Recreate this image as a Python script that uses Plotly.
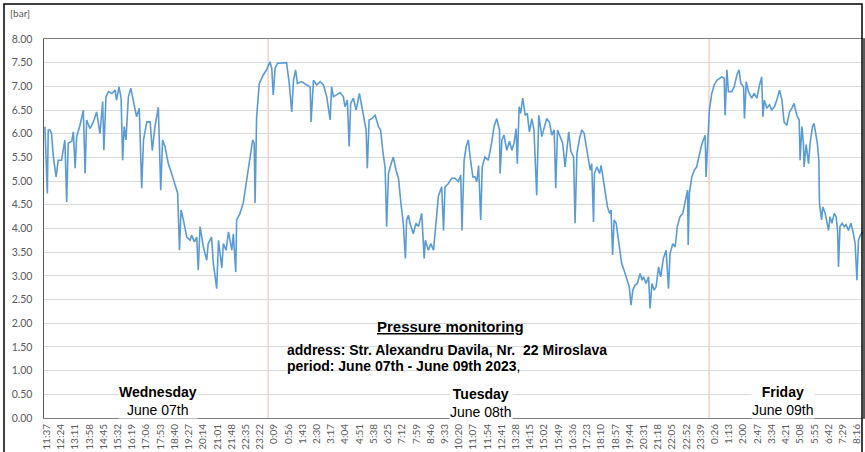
import plotly.graph_objects as go

# ---------------- data ----------------
START_LABEL = "11:37"  # first tick, Wednesday June 07th 2023

# minutes since Wed 11:37
time_wed = [-6, 2, 5, 11, 16, 22, 31, 38, 49, 60, 66, 71, 83, 88, 94, 99, 110, 121, 127, 132, 143, 154, 165, 176,
            185, 189, 196, 204, 215, 226, 231, 239, 246, 251, 256, 262, 270, 278, 286, 297, 306, 314, 320, 331,
            342, 349, 358, 369, 377, 383, 391, 402, 413, 424, 433, 439, 444, 452, 463, 474, 479, 488, 496, 501,
            507, 518, 529, 534, 545, 551, 562, 568, 579, 584, 593, 601, 612, 617, 625, 628, 639, 650, 661, 672,
            681, 686, 689, 694, 703, 716, 727, 738, 744, 749, 755, 763, 777, 793, 802, 810, 816, 823, 829, 843,
            860, 871]
pressure_wed = [6.15, 4.74, 6.08, 6.08, 6.0, 5.51, 5.09, 5.44, 5.44, 5.87, 4.56, 5.8, 5.84, 6.04, 5.27, 5.94, 6.18,
                6.5, 5.16, 6.29, 6.11, 6.25, 6.46, 6.0, 6.68, 5.65, 6.78, 6.89, 6.85, 6.92, 6.71, 6.99, 6.75, 5.44,
                6.15, 5.87, 6.78, 6.96, 6.71, 6.36, 6.54, 4.85, 5.87, 6.25, 6.25, 5.65, 6.15, 6.56, 4.81, 5.87,
                5.73, 5.37, 5.16, 4.95, 4.74, 3.54, 4.39, 4.18, 3.82, 3.75, 3.86, 3.72, 3.82, 3.12, 4.04, 3.61,
                3.33, 3.68, 3.82, 3.26, 2.73, 3.75, 3.17, 3.68, 3.54, 3.93, 3.54, 3.89, 3.08, 4.18, 4.32, 4.54,
                5.02, 5.51, 5.87, 5.80, 4.54, 6.36, 7.06, 7.24, 7.35, 7.52, 7.38, 6.82, 7.38, 7.49, 7.49, 7.5,
                7.06, 6.46, 7.13, 7.35, 7.06, 7.1, 7.03, 6.99]

time_thu = [874, 882, 893, 904, 915, 926, 937, 942, 948, 959, 970, 981, 986, 994, 1000, 1005, 1014, 1023, 1034,
            1042, 1050, 1056, 1060, 1066, 1075, 1086, 1097, 1104, 1111, 1119, 1124, 1130, 1137, 1146, 1155, 1163,
            1171, 1179, 1186, 1190, 1196, 1201, 1212, 1221, 1229, 1240, 1248, 1252, 1262, 1270, 1279, 1287, 1295,
            1306, 1312, 1317, 1328, 1339, 1350, 1361, 1369, 1373, 1380, 1387, 1394, 1400, 1409, 1416, 1422, 1428,
            1435, 1440, 1449, 1460, 1471, 1479, 1488, 1497, 1499, 1505, 1512, 1521, 1530, 1538, 1545, 1552, 1556,
            1562, 1567, 1574, 1582, 1589, 1596, 1604, 1611, 1620, 1627, 1637, 1645, 1653, 1662, 1670, 1678, 1683,
            1689, 1697, 1706, 1714, 1722, 1726, 1733, 1742, 1747, 1753, 1761, 1769, 1777, 1786]
pressure_thu = [6.25, 7.13, 7.03, 7.1, 7.03, 6.78, 6.29, 6.99, 6.78, 6.82, 6.87, 6.78, 6.57, 6.71, 5.73, 6.64,
                6.75, 6.5, 6.85, 6.57, 6.29, 6.08, 5.27, 6.29, 6.32, 6.39, 6.15, 6.08, 5.65, 5.27, 4.04, 5.16,
                5.33, 5.51, 5.23, 5.06, 4.54, 4.11, 3.37, 4.18, 4.28, 4.11, 3.89, 4.11, 4.04, 4.32, 3.37, 3.75,
                3.54, 3.68, 3.54, 4.11, 4.68, 4.88, 3.96, 4.88, 4.95, 5.06, 5.06, 4.99, 5.13, 3.96, 5.44, 5.73,
                5.87, 5.51, 5.09, 5.09, 4.99, 5.33, 4.18, 5.3, 5.51, 5.44, 5.8, 6.15, 6.32, 6.08, 5.16, 5.87,
                5.97, 5.65, 5.84, 5.65, 5.8, 6.11, 5.37, 6.57, 6.43, 6.75, 6.39, 6.43, 6.04, 6.32, 6.08, 4.7,
                6.39, 5.94, 6.11, 6.32, 6.25, 5.97, 6.08, 4.85, 6.08, 5.94, 5.8, 5.3, 5.87, 6.04, 5.63, 5.51,
                4.11, 5.58, 5.87, 6.08, 6.01, 5.65]

time_fri = [1791, 1797, 1802, 1808, 1811, 1819, 1828, 1833, 1839, 1846, 1854, 1861, 1866, 1871, 1876, 1883, 1890,
            1896, 1901, 1909, 1918, 1926, 1932, 1938, 1945, 1953, 1962, 1969, 1973, 1982, 1990, 1995, 2001, 2008,
            2015, 2023, 2030, 2039, 2048, 2056, 2061, 2070, 2078, 2085, 2094, 2103, 2112, 2119, 2121, 2125, 2133,
            2141, 2149, 2158, 2164, 2171, 2177, 2180, 2186, 2191, 2199, 2207, 2216, 2224, 2232, 2240, 2243, 2249,
            2254, 2265, 2273, 2282, 2289, 2295, 2304, 2307, 2313, 2320, 2331, 2339, 2348, 2357, 2364, 2368, 2373,
            2381, 2390, 2397, 2406, 2414, 2423, 2431, 2438, 2447, 2456, 2464, 2471, 2480, 2488, 2491, 2497, 2502,
            2504, 2511, 2519, 2524, 2532, 2537, 2544, 2548, 2553, 2555, 2562, 2566, 2574, 2579, 2585, 2590, 2596,
            2604, 2610, 2615, 2618, 2623, 2630, 2637, 2643, 2651, 2659, 2665, 2673, 2679, 2684, 2690, 2698, 2704]
pressure_fri = [5.44, 5.23, 5.37, 4.14, 5.16, 5.3, 5.16, 5.33, 5.09, 4.74, 4.46, 4.32, 4.39, 3.44, 4.18, 4.11,
                3.75, 3.47, 3.26, 3.12, 2.91, 2.77, 2.38, 2.7, 2.8, 2.84, 3.05, 2.91, 2.98, 2.84, 2.98, 2.31,
                2.84, 2.7, 2.77, 3.19, 2.98, 3.37, 3.54, 2.73, 3.47, 3.68, 3.61, 4.04, 4.25, 4.32, 4.6, 4.81,
                3.65, 4.74, 5.09, 5.23, 5.3, 5.58, 5.73, 5.87, 5.97, 5.09, 6.01, 6.5, 6.85, 7.03, 7.13, 7.17,
                7.2, 7.17, 6.39, 7.35, 6.89, 6.89, 6.99, 7.24, 7.35, 7.06, 6.99, 6.32, 7.1, 6.89, 6.75, 6.85,
                6.75, 7.03, 7.2, 6.36, 6.71, 6.54, 6.61, 6.5, 6.57, 6.71, 6.92, 6.71, 6.25, 6.18, 6.46, 6.54,
                6.64, 6.39, 6.29, 5.44, 6.15, 5.8, 5.3, 5.77, 5.37, 5.8, 6.15, 6.22, 5.94, 5.8, 5.44, 4.54,
                4.18, 4.46, 4.32, 4.11, 3.96, 4.25, 4.11, 4.32, 4.25, 3.96, 3.19, 4.04, 4.11, 4.04, 4.08, 3.96,
                4.11, 3.96, 3.68, 2.91, 3.75, 3.86, 3.93, 3.82]

tick_labels = ["11:37", "12:24", "13:11", "13:58", "14:45", "15:32", "16:19", "17:06", "17:53", "18:40",
               "19:27", "20:14", "21:01", "21:48", "22:35", "23:22", "0:09", "0:56", "1:43", "2:30", "3:17",
               "4:04", "4:51", "5:38", "6:25", "7:12", "7:59", "8:46", "9:33", "10:20", "11:07", "11:54",
               "12:41", "13:28", "14:15", "15:02", "15:49", "16:36", "17:23", "18:10", "18:57", "19:44",
               "20:31", "21:18", "22:05", "22:52", "23:39", "0:26", "1:13", "2:00", "2:47", "3:34", "4:21",
               "5:08", "5:55", "6:42", "7:29", "8:16"]

y_ticks = [0.0, 0.5, 1.0, 1.5, 2.0, 2.5, 3.0, 3.5, 4.0, 4.5, 5.0, 5.5, 6.0, 6.5, 7.0, 7.5, 8.0]
day_breaks = [732, 2190]  # minutes since start where the day divider lines sit

x_range = [-9, 2699]
y_range = [0, 8]

# ---------------- build ----------------
assert len(time_wed) == len(pressure_wed), (len(time_wed), len(pressure_wed))
assert len(time_thu) == len(pressure_thu), (len(time_thu), len(pressure_thu))
assert len(time_fri) == len(pressure_fri), (len(time_fri), len(pressure_fri))

times = time_wed + time_thu + time_fri
pressure = pressure_wed + pressure_thu + pressure_fri


def to_min(lbl):
    h, m = lbl.split(":")
    return int(h) * 60 + int(m)


tick_vals = []
day = 0
prev = None
start = to_min(START_LABEL)
for lbl in tick_labels:
    m = to_min(lbl)
    if prev is not None and m < prev:
        day += 1
    prev = m
    tick_vals.append(m + day * 1440 - start)

X_TICK_FONT = dict(family="Lato, 'Open Sans', sans-serif", size=10, color="#595959")
Y_TICK_FONT = dict(family="Lato, 'Open Sans', sans-serif", size=10.5, color="#595959")
TEXT_FONT = "Liberation Sans, Arial, sans-serif"

fig = go.Figure()
fig.add_trace(go.Scatter(x=times, y=pressure, mode="lines",
                         line=dict(color="#5b9bd5", width=1.6), hoverinfo="skip", showlegend=False))

for xb in day_breaks:
    fig.add_shape(type="line", xref="x", yref="y domain", x0=xb, x1=xb, y0=0, y1=1,
                  line=dict(color="#f0b9a8", width=1), layer="below")

W, H = 865, 452
ML, MR, MT, MB = 44, 2, 39, 34
pw, ph = W - ML - MR, H - MT - MB


def px(x):
    return (x - ML) / pw


def py(y):
    return (H - MB - y) / ph


# outer frame
fig.add_shape(type="rect", xref="paper", yref="paper", x0=px(4), x1=px(862), y0=py(470), y1=py(4),
              line=dict(color="black", width=1.5))

annos = [
    dict(text="[bar]", x=px(9), y=py(13), xanchor="left", yanchor="middle",
         font=dict(family="Lato, sans-serif", size=10, color="#595959")),
    dict(text="<b><u>Pressure monitoring</u></b>", x=px(450), y=py(326), xanchor="center", yanchor="middle",
         font=dict(family=TEXT_FONT, size=15, color="black")),
    dict(text="<b>address: Str. Alexandru Davila, Nr.&nbsp; 22 Miroslava</b>", x=px(286), y=py(350),
         xanchor="left", yanchor="middle", font=dict(family=TEXT_FONT, size=14, color="black")),
    dict(text="<b>period: June 07th - June 09th 2023</b>,", x=px(286), y=py(366),
         xanchor="left", yanchor="middle", font=dict(family=TEXT_FONT, size=14, color="black")),
    dict(text="<b>Wednesday</b><br>June 07th", x=px(158), y=py(401), xanchor="center", yanchor="middle",
         font=dict(family=TEXT_FONT, size=14, color="black"), bgcolor="white"),
    dict(text="<b>Tuesday</b><br>June 08th", x=px(481), y=py(403), xanchor="center", yanchor="middle",
         font=dict(family=TEXT_FONT, size=14, color="black"), bgcolor="white"),
    dict(text="<b>Friday</b><br>June 09th", x=px(783), y=py(401), xanchor="center", yanchor="middle",
         font=dict(family=TEXT_FONT, size=14, color="black"), bgcolor="white"),
]
for a in annos:
    fig.add_annotation(xref="paper", yref="paper", showarrow=False, borderpad=0, **a)

fig.update_layout(
    width=W, height=H,
    margin=dict(l=ML, r=MR, t=MT, b=MB, pad=0, autoexpand=False),
    paper_bgcolor="white", plot_bgcolor="white",
    xaxis=dict(range=x_range, tickmode="array", tickvals=tick_vals, ticktext=tick_labels,
               tickangle=-90, tickfont=X_TICK_FONT, showgrid=False, zeroline=False, automargin=False,
               showline=True, linecolor="#7f7f7f", linewidth=1, mirror=True,
               ticks="outside", ticklen=1, tickcolor="rgba(0,0,0,0)"),
    yaxis=dict(range=y_range, tickmode="array", tickvals=y_ticks, automargin=False,
               ticktext=[f"{v:.2f}" for v in y_ticks], tickfont=Y_TICK_FONT,
               showgrid=True, gridcolor="#d9d9d9", gridwidth=1, zeroline=False,
               showline=True, linecolor="#595959", linewidth=1.5, mirror=True,
               ticks="outside", ticklen=8, tickcolor="rgba(0,0,0,0)"),
)

# remove the browser's default 8px page margin so the figure sits at the window's corner
fig.write_html("out.html", config={"displayModeBar": False, "staticPlot": True},
               post_script="document.body.style.margin='0px';")
